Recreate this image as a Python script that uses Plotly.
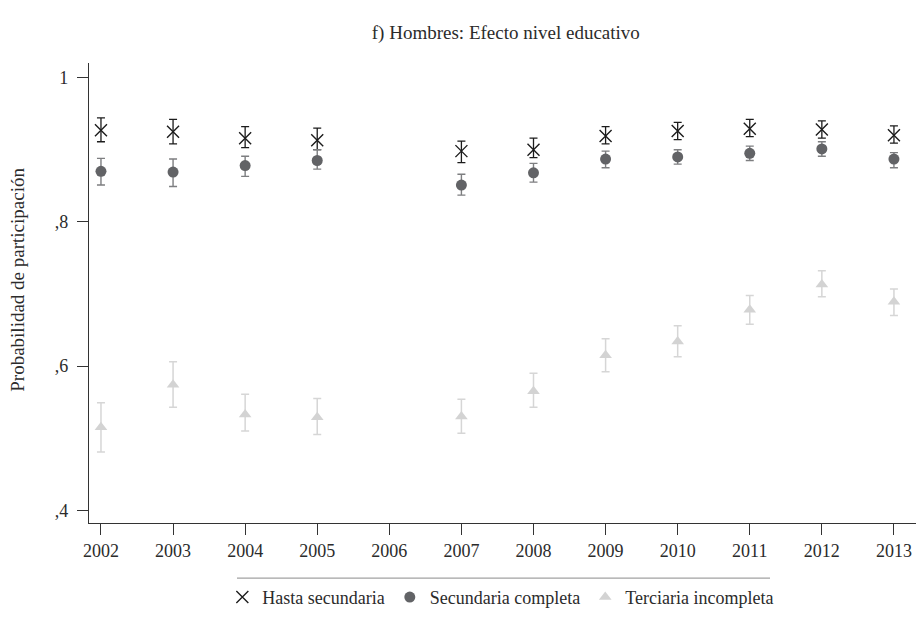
import plotly.graph_objects as go

# Survey years with estimates (no data for 2006)
years = [2002, 2003, 2004, 2005, 2007, 2008, 2009, 2010, 2011, 2012, 2013]
tick_years = [2002, 2003, 2004, 2005, 2006, 2007, 2008, 2009, 2010, 2011, 2012, 2013]

# Predicted participation probability and 95% confidence bounds
hasta = [0.927, 0.925, 0.916, 0.913, 0.898, 0.900, 0.919, 0.926, 0.929, 0.928, 0.920]
hasta_hi = [0.944, 0.942, 0.932, 0.930, 0.912, 0.916, 0.932, 0.938, 0.942, 0.940, 0.933]
hasta_lo = [0.911, 0.908, 0.903, 0.900, 0.882, 0.889, 0.908, 0.914, 0.918, 0.916, 0.909]

sec = [0.870, 0.869, 0.878, 0.885, 0.851, 0.868, 0.887, 0.890, 0.895, 0.901, 0.887]
sec_hi = [0.888, 0.887, 0.891, 0.900, 0.866, 0.881, 0.898, 0.900, 0.905, 0.911, 0.896]
sec_lo = [0.851, 0.849, 0.863, 0.873, 0.837, 0.855, 0.875, 0.880, 0.885, 0.891, 0.875]

ter = [0.515, 0.574, 0.533, 0.529, 0.530, 0.565, 0.615, 0.634, 0.678, 0.713, 0.689]
ter_hi = [0.549, 0.606, 0.561, 0.555, 0.554, 0.590, 0.638, 0.656, 0.698, 0.732, 0.707]
ter_lo = [0.481, 0.543, 0.510, 0.505, 0.507, 0.543, 0.592, 0.613, 0.658, 0.696, 0.670]

y_tickvals = [0.4, 0.6, 0.8, 1.0]
y_ticktext = [",4", ",6", ",8", "1"]

FONT = "Liberation Serif"
TXT = "#2b2b2b"


def err(vals, lo, hi, color, thick):
    return dict(
        type="data", symmetric=False,
        array=[h - v for v, h in zip(vals, hi)],
        arrayminus=[v - l for v, l in zip(vals, lo)],
        color=color, thickness=thick, width=4,
    )


fig = go.Figure()
fig.add_trace(go.Scatter(
    x=years, y=hasta, mode="markers", name="Hasta secundaria",
    marker=dict(symbol="x-thin-open", size=12, color="#1c1c1c",
                line=dict(width=1.4, color="#1c1c1c")),
    error_y=err(hasta, hasta_lo, hasta_hi, "#1c1c1c", 1.3),
))
fig.add_trace(go.Scatter(
    x=years, y=sec, mode="markers", name="Secundaria completa",
    marker=dict(symbol="circle", size=11, color="#626366"),
    error_y=err(sec, sec_lo, sec_hi, "#7d7e80", 1.4),
))
fig.add_trace(go.Scatter(
    x=years, y=ter, mode="markers", name="Terciaria incompleta",
    marker=dict(symbol="triangle-up", size=11, color="#d3d3d3"),
    error_y=err(ter, ter_lo, ter_hi, "#d6d6d6", 1.5),
))

# Rule above the legend
fig.add_shape(type="line", xref="paper", yref="paper",
              x0=(237 - 89) / 827, x1=(770 - 89) / 827,
              y0=-0.1198, y1=-0.1198,
              line=dict(color="#8a8a8a", width=1))

# Y-axis title
fig.add_annotation(
    text="Probabilidad de participación", xref="paper", yref="paper",
    x=-0.0875, y=0.528, textangle=-90, showarrow=False,
    xanchor="center", yanchor="middle",
    font=dict(family=FONT, size=19, color=TXT),
)

fig.update_layout(
    width=916, height=624,
    margin=dict(l=89, r=0, t=63, b=101),
    paper_bgcolor="white", plot_bgcolor="white",
    font=dict(family=FONT, size=18, color=TXT),
    title=dict(text="f) Hombres: Efecto nivel educativo",
               x=0.504, xref="paper", xanchor="center",
               y=1 - 32 / 624, yref="container", yanchor="middle",
               font=dict(family=FONT, size=19, color=TXT)),
    showlegend=True,
    legend=dict(orientation="h", x=0.498, xanchor="center",
                y=-0.1616, yanchor="middle",
                font=dict(family=FONT, size=18, color=TXT),
                bgcolor="rgba(0,0,0,0)"),
    xaxis=dict(
        range=[2001.834, 2013.306], tickvals=tick_years,
        ticktext=[str(y) for y in tick_years],
        showline=True, linecolor="#333333", linewidth=1.3,
        ticks="outside", ticklen=11, tickwidth=1.2, tickcolor="#333333",
        showgrid=False, zeroline=False,
        tickfont=dict(family=FONT, size=18, color=TXT),
    ),
    yaxis=dict(
        range=[0.3824, 1.0202], tickvals=y_tickvals, ticktext=y_ticktext,
        showline=True, linecolor="#333333", linewidth=1.3,
        ticks="outside", ticklen=11, tickwidth=1.2, tickcolor="#333333",
        showgrid=False, zeroline=False,
        tickfont=dict(family=FONT, size=18, color=TXT),
        ticklabelstandoff=5,
    ),
)

fig.write_html("out.html")
